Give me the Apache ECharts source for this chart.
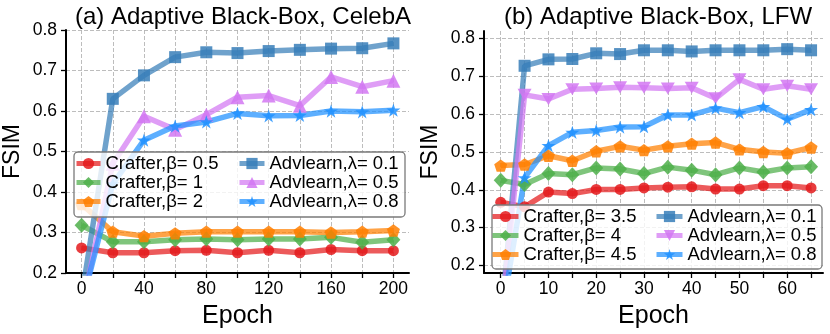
<!DOCTYPE html>
<html>
<head>
<meta charset="utf-8">
<script src="https://cdn.jsdelivr.net/npm/echarts@6/dist/echarts.min.js"></script>
<style>
  html, body { margin: 0; padding: 0; background: #fff; }
  #chart { width: 830px; height: 334px; }
</style>
</head>
<body>
<div id="chart"></div>
<script>
// (a) CelebA
let epochsA = [0, 20, 40, 60, 80, 100, 120, 140, 160, 180, 200];
let crafterA05 = [0.262, 0.250, 0.250, 0.255, 0.256, 0.250, 0.256, 0.250, 0.258, 0.255, 0.255];
let crafterA1  = [0.318, 0.277, 0.277, 0.282, 0.284, 0.282, 0.284, 0.284, 0.288, 0.276, 0.282];
let crafterA2  = [0.370, 0.302, 0.291, 0.298, 0.302, 0.302, 0.302, 0.302, 0.300, 0.302, 0.305];
let advA01 = [0.14, 0.630, 0.688, 0.733, 0.745, 0.743, 0.748, 0.751, 0.754, 0.755, 0.767];
let advA05 = [0.11, 0.470, 0.587, 0.554, 0.591, 0.634, 0.638, 0.613, 0.684, 0.660, 0.675];
let advA08 = [0.12, 0.420, 0.528, 0.563, 0.573, 0.594, 0.588, 0.589, 0.600, 0.598, 0.602];
let xTicksA  = [0, 20, 40, 60, 80, 100, 120, 140, 160, 180, 200];
let xLabelsA = [0, 40, 80, 120, 160, 200];

// (b) LFW
let epochsB = [0, 5, 10, 15, 20, 25, 30, 35, 40, 45, 50, 55, 60, 65];
let crafterB35 = [0.367, 0.355, 0.394, 0.390, 0.401, 0.401, 0.405, 0.407, 0.408, 0.402, 0.402, 0.411, 0.411, 0.405];
let crafterB4  = [0.425, 0.414, 0.443, 0.440, 0.458, 0.455, 0.443, 0.460, 0.452, 0.440, 0.458, 0.447, 0.458, 0.461];
let crafterB45 = [0.464, 0.467, 0.490, 0.477, 0.502, 0.515, 0.505, 0.515, 0.522, 0.525, 0.507, 0.500, 0.497, 0.512];
let advB01 = [0.05, 0.728, 0.745, 0.746, 0.761, 0.759, 0.769, 0.769, 0.766, 0.769, 0.769, 0.769, 0.772, 0.769];
let advB05 = [0.05, 0.651, 0.640, 0.666, 0.668, 0.671, 0.670, 0.668, 0.670, 0.642, 0.692, 0.666, 0.675, 0.666];
let advB08 = [0.05, 0.432, 0.517, 0.552, 0.557, 0.566, 0.567, 0.598, 0.598, 0.616, 0.604, 0.620, 0.587, 0.612];
let xTicksB  = [0, 5, 10, 15, 20, 25, 30, 35, 40, 45, 50, 55, 60, 65];
let xLabelsB = [0, 10, 20, 30, 40, 50, 60];

let yTicks = [0.2, 0.3, 0.4, 0.5, 0.6, 0.7, 0.8];

let FONT = "'Liberation Sans', Arial, Helvetica, sans-serif";

// marker shapes that echarts doesn't have
let PENTAGON = 'path://M50,0 L97.6,34.5 L79.4,90.5 L20.6,90.5 L2.4,34.5 Z';
let STAR = 'path://M50,0 L61.2,34.5 L97.6,34.5 L68.2,55.9 L79.4,90.5 L50,69.1 L20.6,90.5 L31.8,55.9 L2.4,34.5 L38.8,34.5 Z';
let TRI_DOWN = 'path://M0,0 L100,0 L50,87 Z';

function pairs(xs, ys) {
    return xs.map(function (x, i) { return [x, ys[i]]; });
}

function line(name, idx, xs, ys, color, symbol, size) {
    return {
        name: name,
        type: 'line',
        xAxisIndex: idx,
        yAxisIndex: idx,
        data: pairs(xs, ys),
        symbol: symbol,
        symbolSize: size,
        symbolKeepAspect: true,
        showAllSymbol: true,
        clip: true,
        animation: false,
        lineStyle: { color: color, width: 5.5, opacity: 0.72 },
        itemStyle: { color: color, opacity: 0.85 },
        emphasis: { disabled: true }
    };
}

function xAxis(idx, min, max, ticks, labels) {
    return {
        type: 'value', gridIndex: idx, min: min, max: max,
        name: 'Epoch', nameLocation: 'middle', nameGap: 31,
        nameTextStyle: { fontFamily: FONT, fontSize: 25, color: '#000' },
        axisLine: { onZero: false, lineStyle: { color: '#000', width: 2 } },
        axisTick: { show: true, length: 5, customValues: ticks, lineStyle: { color: '#000', width: 1.3 } },
        axisLabel: { customValues: labels, margin: 7, fontFamily: FONT, fontSize: 17.5, color: '#000' },
        splitLine: { show: true, lineStyle: { color: '#b5b5b5', width: 0.9, type: [4, 2] } }
    };
}

function yAxis(idx, min, max) {
    return {
        type: 'value', gridIndex: idx, min: min, max: max,
        name: 'FSIM', nameLocation: 'middle', nameGap: 42,
        nameTextStyle: { fontFamily: FONT, fontSize: 23, color: '#000' },
        axisLine: { show: true, onZero: false, lineStyle: { color: '#000', width: 2 } },
        axisTick: { show: true, length: 5, customValues: yTicks, lineStyle: { color: '#000', width: 1.3 } },
        axisLabel: {
            customValues: yTicks, margin: 9, fontFamily: FONT, fontSize: 17.5, color: '#000',
            formatter: function (v) { return v.toFixed(1); }
        },
        splitLine: { show: true, lineStyle: { color: '#b5b5b5', width: 0.9, type: [4, 2] } }
    };
}

function legend(names, left, top, itemWidth) {
    return {
        data: names, orient: 'vertical', left: left, top: top,
        itemWidth: itemWidth, itemHeight: 14, itemGap: 0, padding: 0,
        selectedMode: false, z: 20,
        lineStyle: { width: 5 },
        textStyle: { fontFamily: FONT, fontSize: 18.5, color: '#000', lineHeight: 19 }
    };
}

let RED = '#e41a1c', GREEN = '#4daf4a', ORANGE = '#ff7f00';
let BLUE = '#377eb8', VIOLET = '#d277f2', DBLUE = '#1e90ff';

// names for the right chart get a trailing space so the legends pick the right marker
let namesA = ['Crafter,β= 0.5', 'Crafter,β= 1', 'Crafter,β= 2', 'Advlearn,λ= 0.1', 'Advlearn,λ= 0.5', 'Advlearn,λ= 0.8'];
let namesB = ['Crafter,β= 3.5', 'Crafter,β= 4', 'Crafter,β= 4.5', 'Advlearn,λ= 0.1 ', 'Advlearn,λ= 0.5 ', 'Advlearn,λ= 0.8 '];

let chart = echarts.init(document.getElementById('chart'));

chart.setOption({
    backgroundColor: '#fff',
    animation: false,
    title: [
        { text: '(a) Adaptive Black-Box, CelebA', left: 238, top: 0, textAlign: 'center',
          textStyle: { fontFamily: FONT, fontSize: 24, fontWeight: 'normal', color: '#000' } },
        { text: '(b) Adaptive Black-Box, LFW', left: 653, top: 0, textAlign: 'center',
          textStyle: { fontFamily: FONT, fontSize: 24, fontWeight: 'normal', color: '#000' } }
    ],
    grid: [
        { left: 66, top: 30, width: 343, height: 244 },
        { left: 484, top: 31, width: 339, height: 243 }
    ],
    xAxis: [
        xAxis(0, -10, 210, xTicksA, xLabelsA),
        xAxis(1, -3.5, 67.5, xTicksB, xLabelsB)
    ],
    yAxis: [
        yAxis(0, 0.2, 0.8),
        yAxis(1, 0.18, 0.82)
    ],
    // legend frames (semi transparent, on top of the lines)
    graphic: [
        { type: 'rect', z: 15, shape: { x: 74, y: 152, width: 331, height: 65, r: 4 },
          style: { fill: 'rgba(255,255,255,0.8)', stroke: '#7a7a7a', lineWidth: 1.3 } },
        { type: 'rect', z: 15, shape: { x: 492, y: 205, width: 330, height: 64, r: 4 },
          style: { fill: 'rgba(255,255,255,0.8)', stroke: '#7a7a7a', lineWidth: 1.3 } }
    ],
    legend: [
        legend(namesA.slice(0, 3), 74, 154, 24),
        legend(namesA.slice(3), 237, 154, 25),
        legend(namesB.slice(0, 3), 490, 207, 26),
        legend(namesB.slice(3), 654, 207, 26)
    ],
    series: [
        line(namesA[0], 0, epochsA, crafterA05, RED, 'circle', 11),
        line(namesA[1], 0, epochsA, crafterA1, GREEN, 'diamond', [14, 15]),
        line(namesA[2], 0, epochsA, crafterA2, ORANGE, PENTAGON, 13),
        line(namesA[3], 0, epochsA, advA01, BLUE, 'rect', 12),
        line(namesA[4], 0, epochsA, advA05, VIOLET, 'triangle', 14),
        line(namesA[5], 0, epochsA, advA08, DBLUE, STAR, 14),

        line(namesB[0], 1, epochsB, crafterB35, RED, 'circle', 11),
        line(namesB[1], 1, epochsB, crafterB4, GREEN, 'diamond', [14, 15]),
        line(namesB[2], 1, epochsB, crafterB45, ORANGE, PENTAGON, 13),
        line(namesB[3], 1, epochsB, advB01, BLUE, 'rect', 12),
        line(namesB[4], 1, epochsB, advB05, VIOLET, TRI_DOWN, 14),
        line(namesB[5], 1, epochsB, advB08, DBLUE, STAR, 14)
    ]
});
</script>
</body>
</html>
